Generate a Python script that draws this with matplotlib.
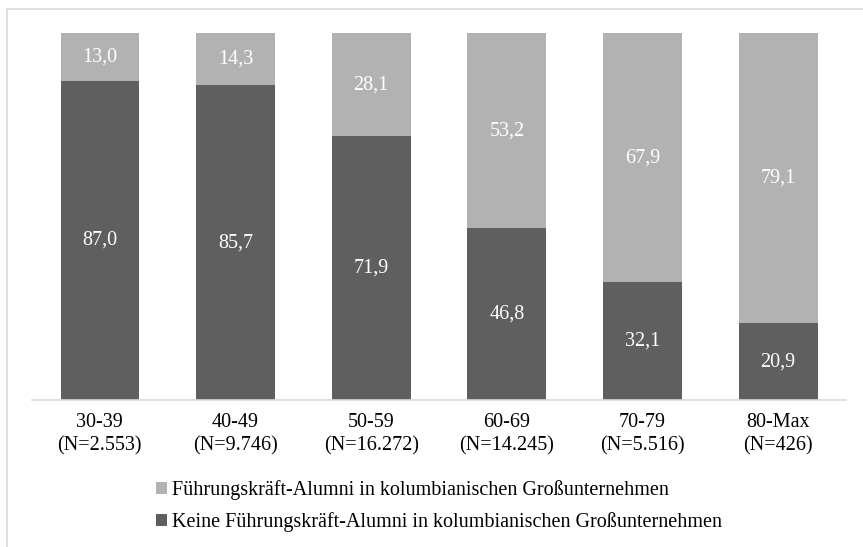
import matplotlib.pyplot as plt
import numpy as np

plt.rcParams['font.family'] = ['Liberation Serif', 'DejaVu Serif']

categories = ['30-39\n(N=2.553)', '40-49\n(N=9.746)', '50-59\n(N=16.272)',
              '60-69\n(N=14.245)', '70-79\n(N=5.516)', '80-Max\n(N=426)']
keine = [87.0, 85.7, 71.9, 46.8, 32.1, 20.9]
alumni = [13.0, 14.3, 28.1, 53.2, 67.9, 79.1]

dark = '#5f5f5f'
light = '#b2b2b2'

fig = plt.figure(figsize=(8.63, 5.47), dpi=100)
ax = fig.add_axes([0.0371, 0.2687, 0.9432, 0.671])

x = np.arange(len(categories))
w = 0.58
b1 = ax.bar(x, keine, w, color=dark,
            label='Keine Führungskräft-Alumni in kolumbianischen Großunternehmen')
b2 = ax.bar(x, alumni, w, bottom=keine, color=light,
            label='Führungskräft-Alumni in kolumbianischen Großunternehmen')

for i in range(len(x)):
    ax.text(x[i], keine[i] / 2, f'{keine[i]:.1f}'.replace('.', ','),
            ha='center', va='center', color='white', fontsize=14.5)
    ax.text(x[i], keine[i] + alumni[i] / 2, f'{alumni[i]:.1f}'.replace('.', ','),
            ha='center', va='center', color='white', fontsize=14.5)

ax.set_xlim(-0.5, len(x) - 0.5)
ax.set_ylim(0, 100)
ax.set_xticks(x)
ax.set_xticklabels(categories, fontsize=14.5, linespacing=1.3)
ax.tick_params(axis='x', length=0, pad=9)
ax.set_yticks([])
for s in ['top', 'left', 'right']:
    ax.spines[s].set_visible(False)
ax.spines['bottom'].set_color('#d9d9d9')
ax.spines['bottom'].set_linewidth(1.2)

ax.legend(handles=[b2, b1], loc='upper center', bbox_to_anchor=(0.5, -0.17),
          frameon=False, fontsize=14.5, handlelength=0.55, handleheight=0.55,
          handletextpad=0.25, labelspacing=0.6)

# outer frame
fig.patches.append(plt.Rectangle((7 / 863, -0.01), 1.0, 1 - 9 / 547 + 0.01,
                                 transform=fig.transFigure, fill=False,
                                 edgecolor='#d9d9d9', linewidth=1.2))

fig.savefig('out.png', dpi=100)
